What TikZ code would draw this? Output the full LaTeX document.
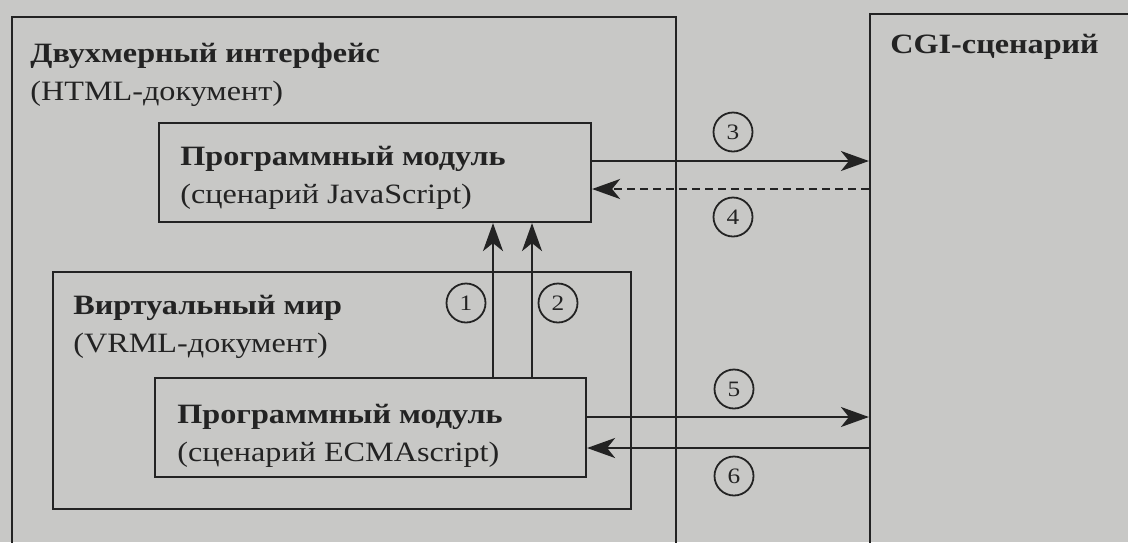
\documentclass[tikz,border=0pt]{standalone}
\usepackage{fontspec}
\setmainfont{Liberation Serif}[FakeStretch=1.15]
\usepackage{tikz}
\usetikzlibrary{arrows.meta, positioning}
\definecolor{paper}{RGB}{200, 200, 198}
\definecolor{ink}{RGB}{35, 35, 35}

\begin{document}
\begin{tikzpicture}[x=0.5pt, y=-0.5pt,
    box/.style={draw=ink, line width=1.1pt, rectangle, inner sep=0pt},
    boxtext/.style={text=ink, align=left, anchor=west, inner sep=0pt, font=\fontsize{14}{19}\selectfont},
    num/.style={draw=ink, circle, line width=0.9pt, minimum size=19.5pt, inner sep=0pt, text=ink, font=\fontsize{11}{11}\selectfont},
    link/.style={draw=ink, line width=1.1pt, -{Stealth[length=14pt, width=10pt, inset=4pt]}}]
        % page of the book, the two big boxes run past its edges
        \useasboundingbox (0,0) rectangle (1128,542);
        \fill[paper] (0,0) rectangle (1128,542);
        \clip (0,0) rectangle (1128,542);

        \node[box, minimum width=332pt, minimum height=342pt] (html) at (344,359) {};
        \node[box, minimum width=190pt, minimum height=343pt] (cgi) at (1060,357) {};
        \node[box, minimum width=216pt, minimum height=49.5pt] (js) at (375,172.5) {};
        \node[box, minimum width=289pt, minimum height=118.5pt] (vrml) at (342,390.5) {};
        \node[box, minimum width=215.5pt, minimum height=49.5pt] (ecma) at (370.5,427.5) {};

        \node[boxtext] (htmltext) at (30,74.5) {\bfseries Двухмерный интерфейс\\(HTML-документ)};
        \node[boxtext] (jstext) at (180,178) {\bfseries Программный модуль\\(сценарий JavaScript)};
        \node[boxtext] (cgitext) at (890,47) {\bfseries CGI-сценарий};
        \node[boxtext] (vrmltext) at (73,327) {\bfseries Виртуальный мир\\(VRML-документ)};
        \node[boxtext] (ecmatext) at (177,436) {\bfseries Программный модуль\\(сценарий ECMAscript)};

        % JavaScript <-> CGI
        \coordinate (js3) at ([yshift=5.75pt]js.east);
        \coordinate (js4) at ([yshift=-8.25pt]js.east);
        \draw[link] (js3) -- (js3 -| cgi.west);
        \draw[link, dash pattern=on 4pt off 2.5pt] (js4 -| cgi.west) -- (js4);
        \node[num] (n3) at (733,132) {3};
        \node[num] (n4) at (733,217) {4};

        % ECMAscript -> JavaScript
        \coordinate (up1) at ([xshift=61.25pt]ecma.north);
        \coordinate (up2) at ([xshift=80.75pt]ecma.north);
        \draw[link] (up1) -- (up1 |- js.south);
        \draw[link] (up2) -- (up2 |- js.south);
        \node[num] (n1) at (466,303) {1};
        \node[num] (n2) at (558,303) {2};

        % ECMAscript <-> CGI
        \coordinate (ec5) at ([yshift=5.25pt]ecma.east);
        \coordinate (ec6) at ([yshift=-10.25pt]ecma.east);
        \draw[link] (ec5) -- (ec5 -| cgi.west);
        \draw[link] (ec6 -| cgi.west) -- (ec6);
        \node[num] (n5) at (734,389) {5};
        \node[num] (n6) at (734,476) {6};
    \end{tikzpicture}
\end{document}
